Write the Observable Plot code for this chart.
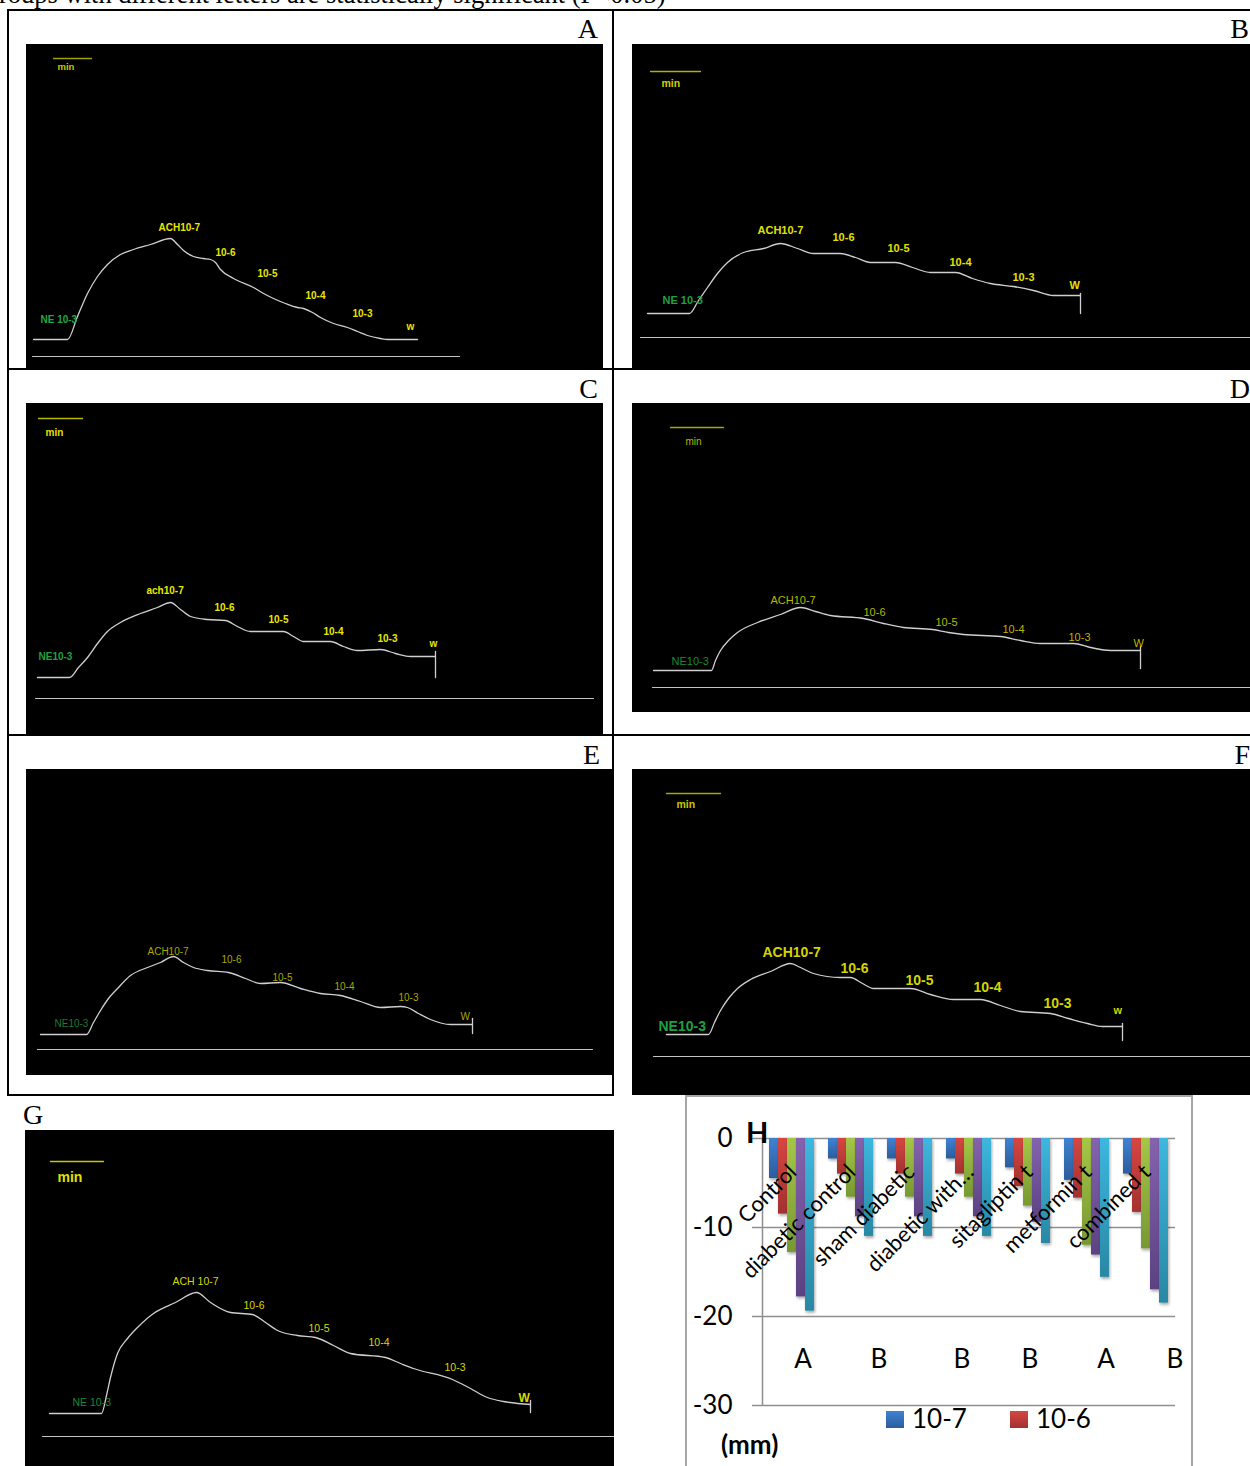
<!DOCTYPE html>
<html><head><meta charset="utf-8">
<script src="https://cdn.jsdelivr.net/npm/d3@7"></script>
<script src="https://cdn.jsdelivr.net/npm/@observablehq/plot@0.6"></script>
<style>
body{margin:0;background:#fff;}
#page{position:relative;width:1250px;height:1466px;overflow:hidden;background:#fff;}
.ln{position:absolute;background:#000;}
.serif{position:absolute;font-family:"Liberation Serif","Times New Roman",serif;color:#000;white-space:nowrap;}
.lato{position:absolute;font-family:Lato,sans-serif;color:#000;white-space:nowrap;line-height:1.2;}
.wrap{position:absolute;}
.wrap svg{display:block;}
.hbars g[aria-label="bar"] rect{filter:url(#bshadow);}
</style></head><body>
<svg width="0" height="0" style="position:absolute">
<defs>
<linearGradient id="bg0" x1="0" y1="0" x2="0" y2="1"><stop offset="0" stop-color="#3f82d2"/><stop offset="1" stop-color="#2c5c9c"/></linearGradient>
<linearGradient id="bg1" x1="0" y1="0" x2="0" y2="1"><stop offset="0" stop-color="#d64642"/><stop offset="1" stop-color="#a3312f"/></linearGradient>
<linearGradient id="bg2" x1="0" y1="0" x2="0" y2="1"><stop offset="0" stop-color="#a4c747"/><stop offset="1" stop-color="#789833"/></linearGradient>
<linearGradient id="bg3" x1="0" y1="0" x2="0" y2="1"><stop offset="0" stop-color="#8563ae"/><stop offset="1" stop-color="#5b4282"/></linearGradient>
<linearGradient id="bg4" x1="0" y1="0" x2="0" y2="1"><stop offset="0" stop-color="#3db7de"/><stop offset="1" stop-color="#2888a4"/></linearGradient>
<filter id="bshadow" x="-30%" y="-10%" width="160%" height="130%"><feDropShadow dx="1" dy="2" stdDeviation="1.5" flood-color="#000" flood-opacity="0.35"/></filter>
</defs></svg>
<div id="page"></div>
<script>
// ---------------- DATA ----------------
// Bar chart H
const categories = ["Control","diabetic control","sham diabetic","diabetic with…","sitagliptin t","metformin t","combined t"];
const doses = ["10-7","10-6","10-5","10-4","10-3"];
const vals107 = [-4.5,-2.3,-2.3,-2.3,-3.3,-4.7,-4.0];
const vals106 = [-8.5,-4.0,-4.0,-4.0,-5.4,-6.7,-8.3];
const vals105 = [-12.8,-6.6,-6.6,-6.6,-7.6,-12.0,-12.4];
const vals104 = [-17.8,-8.8,-8.8,-8.8,-9.4,-13.1,-17.0];
const vals103 = [-19.4,-11.0,-11.0,-11.0,-11.8,-15.6,-18.5];
const yTicks = [0,-10,-20,-30];
const sigLetters = ["A","B","B","B","A","B"];
const legendDoses = ["10-7","10-6"];

// Tracings (time, tension) read from the recordings
const traceA = [[33,339],[67,339],[77,316],[87,293],[97,276],[107,264],[120,254],[133,249],[150,244],[170,238],[177,244],[183,250],[193,256],[203,258],[210,259],[215,262],[220,269],[233,278],[253,287],[263,293],[273,298],[285,303],[297,307],[303,308],[312,312],[320,317],[333,323],[347,327],[357,331],[367,335],[380,338],[387,339],[417,339]];
const baseA = [[32,356],[459,356]];
const minA = [[53,58],[91,58]];
const labelsA = [["NE 10-3",40,319],["ACH10-7",158,227],["10-6",215,252],["10-5",257,273],["10-4",305,295],["10-3",352,313],["w",406,326]];

const traceB = [[647,313],[689,313],[698,300],[707,287],[717,273],[727,262],[743,252],[763,248],[780,243],[797,248],[813,253],[840,253],[855,257],[870,262],[895,262],[912,267],[930,272],[955,272],[972,278],[990,283],[1013,286],[1033,290],[1053,295],[1080,295]];
const tickB = [[1080,293],[1080,313]];
const baseB = [[640,337],[1250,337]];
const minB = [[650,71],[700,71]];
const labelsB = [["NE 10-3",662,300],["ACH10-7",757,230],["10-6",832,237],["10-5",887,248],["10-4",949,262],["10-3",1012,277],["W",1069,285]];

const traceC = [[37,677],[69,677],[78,667],[87,657],[97,643],[107,631],[120,622],[140,613],[157,607],[170,602],[180,609],[190,616],[207,619],[225,620],[237,626],[250,631],[273,631],[283,631],[293,636],[303,641],[322,641],[330,641],[343,646],[357,650],[380,649],[395,653],[410,656],[435,656]];
const tickC = [[435,651],[435,677]];
const baseC = [[35,698],[593,698]];
const minC = [[38,418],[82,418]];
const labelsC = [["NE10-3",38,656],["ach10-7",146,590],["10-6",214,607],["10-5",268,619],["10-4",323,631],["10-3",377,638],["w",429,643]];

const traceD = [[653,670],[711,670],[715,660],[720,650],[728,640],[737,632],[757,622],[780,614],[800,607],[815,611],[830,615],[863,618],[883,623],[903,627],[932,629],[948,632],[963,634],[1000,636],[1020,640],[1040,643],[1073,643],[1090,647],[1110,650],[1140,650]];
const tickD = [[1140,646],[1140,668]];
const baseD = [[652,687],[1250,687]];
const minD = [[670,427],[723,427]];
const labelsD = [["NE10-3",671,661],["ACH10-7",770,600],["10-6",863,612],["10-5",935,622],["10-4",1002,629],["10-3",1068,637],["W",1133,643]];

const traceE = [[40,1034],[86,1034],[93,1022],[100,1010],[108,998],[117,988],[130,975],[147,967],[160,962],[173,956],[183,962],[193,967],[207,970],[228,972],[245,978],[260,983],[280,982],[300,988],[320,993],[340,995],[360,1001],[380,1007],[400,1006],[407,1007],[418,1013],[430,1019],[450,1024],[472,1024]];
const tickE = [[472,1018],[472,1033]];
const baseE = [[37,1049],[592,1049]];
const labelsE = [["NE10-3",54,1023],["ACH10-7",147,951],["10-6",221,959],["10-5",272,977],["10-4",334,986],["10-3",398,997],["W",460,1016]];

const traceF = [[666,1034],[708,1034],[714,1022],[720,1010],[728,998],[737,988],[750,979],[770,971],[790,963],[800,967],[813,973],[840,977],[850,977],[862,983],[873,988],[910,988],[930,994],[953,999],[980,999],[1000,1005],[1020,1011],[1050,1013],[1068,1018],[1087,1023],[1102,1026],[1122,1026]];
const tickF = [[1122,1023],[1122,1040]];
const baseF = [[653,1056],[1250,1056]];
const minF = [[666,793],[720,793]];
const labelsF = [["NE10-3",658,1026],["ACH10-7",762,952],["10-6",840,968],["10-5",905,980],["10-4",973,987],["10-3",1043,1003],["w",1113,1010]];

const traceG = [[49,1413],[101,1413],[106,1395],[110,1377],[117,1353],[127,1338],[137,1327],[153,1313],[175,1302],[196,1292],[210,1302],[230,1312],[252,1314],[265,1322],[277,1330],[297,1335],[315,1337],[333,1345],[350,1353],[385,1357],[400,1363],[413,1368],[452,1379],[470,1388],[487,1397],[503,1401],[530,1404]];
const tickG = [[530,1400],[530,1412]];
const baseG = [[42,1436],[614,1436]];
const minG = [[50,1161],[103,1161]];
const labelsG = [["NE 10-3",72,1402],["ACH 10-7",172,1281],["10-6",243,1305],["10-5",308,1328],["10-4",368,1342],["10-3",444,1367],["W",518,1398]];

// ---------------- LAYOUT ----------------
const page = document.getElementById("page");
function el(cls, css, text){
  const d = document.createElement("div");
  d.className = cls; Object.assign(d.style, css);
  if (text != null) d.textContent = text;
  page.appendChild(d); return d;
}
// caption (cut at top)
el("serif", {left:"-1px", top:"-19px", fontSize:"26.5px", lineHeight:"26.5px"}, "roups with different letters are statistically significant (P<0.05)");

// panels
const panels = [
  {id:"A", box:[26,44,603,369], trace:traceA, base:baseA, tick:null, min:minA, minText:[57,66], minSize:9.5, minBold:true, labels:labelsA, fs:10, bold:true, yellow:"#e6e600", green:"#24a646", bar:"#a0a000", minColor:"#c8c800"},
  {id:"B", box:[632,44,1250,369], trace:traceB, base:baseB, tick:tickB, min:minB, minText:[661,83], minSize:10.5, minBold:true, labels:labelsB, fs:11, bold:true, yellow:"#e0e000", green:"#20a040", bar:"#b0b000", minColor:"#d0d000"},
  {id:"C", box:[26,403,603,735], trace:traceC, base:baseC, tick:tickC, min:minC, minText:[45,432], minSize:10, minBold:true, labels:labelsC, fs:10, bold:true, yellow:"#e8e800", green:"#22a040", bar:"#b8b800", minColor:"#e0e000"},
  {id:"D", box:[632,403,1250,712], trace:traceD, base:baseD, tick:tickD, min:minD, minText:[685,441], minSize:10, minBold:false, labels:labelsD, fs:11, bold:false, yellow:"#b8b800", green:"#1a8a36", bar:"#a8a800", minColor:"#b8b800"},
  {id:"E", box:[26,769,612,1075], trace:traceE, base:baseE, tick:tickE, min:null, labels:labelsE, fs:10, bold:false, yellow:"#a8a800", green:"#1a7a30"},
  {id:"F", box:[632,769,1250,1095], trace:traceF, base:baseF, tick:tickF, min:minF, minText:[676,804], minSize:10.5, minBold:true, labels:labelsF, fs:14, bold:true, wSize:11, yellow:"#d4d400", green:"#1fa040", bar:"#a8a800", minColor:"#c8c800"},
  {id:"G", box:[25,1130,614,1466], trace:traceG, base:baseG, tick:tickG, min:minG, minText:[57,1177], minSize:14, minBold:true, labels:labelsG, fs:10.5, bold:false, wBold:true, wSize:12, yellow:"#d8d800", green:"#1a8a36", bar:"#c8c800", minColor:"#e0e000"}
];
const X = d => d[0], Y = d => d[1];
for (const p of panels){
  const [l,t,r,b] = p.box;
  const w = r - l, h = b - t;
  const font = "Liberation Sans, Arial, sans-serif";
  const marks = [
    Plot.line(p.base, {x:X, y:Y, stroke:"#c4c4c4", strokeWidth:1.2}),
    Plot.line(p.trace, {x:X, y:Y, stroke:"#cfcfcf", strokeWidth:1.3, curve:"monotone-x"})
  ];
  if (p.tick) marks.push(Plot.line(p.tick, {x:X, y:Y, stroke:"#cfcfcf", strokeWidth:1.3}));
  if (p.min){
    marks.push(Plot.line(p.min, {x:X, y:Y, stroke:p.bar, strokeWidth:1.3}));
    marks.push(Plot.text([p.minText], {x:X, y:Y, text:()=>"min", fill:p.minColor, fontSize:p.minSize, fontWeight:p.minBold?"bold":"normal", fontFamily:font, textAnchor:"start", lineAnchor:"middle"}));
  }
  const ne = p.labels.slice(0,1), doseL = p.labels.slice(1,-1), wl = p.labels.slice(-1);
  marks.push(Plot.text(ne, {x:d=>d[1], y:d=>d[2], text:d=>d[0], fill:p.green, fontSize:p.fs, fontWeight:p.bold?"bold":"normal", fontFamily:font, textAnchor:"start", lineAnchor:"middle"}));
  marks.push(Plot.text(doseL, {x:d=>d[1], y:d=>d[2], text:d=>d[0], fill:p.yellow, fontSize:p.fs, fontWeight:p.bold?"bold":"normal", fontFamily:font, textAnchor:"start", lineAnchor:"middle"}));
  marks.push(Plot.text(wl, {x:d=>d[1], y:d=>d[2], text:d=>d[0], fill:p.yellow, fontSize:p.wSize||p.fs, fontWeight:(p.bold||p.wBold)?"bold":"normal", fontFamily:font, textAnchor:"start", lineAnchor:"middle"}));
  const chart = Plot.plot({
    width:w, height:h, margin:0,
    x:{domain:[l,r], axis:null},
    y:{domain:[b,t], axis:null},
    style:{background:"#000", overflow:"hidden"},
    marks
  });
  const wrap = el("wrap", {left:l+"px", top:t+"px", width:w+"px", height:h+"px"});
  wrap.appendChild(chart);
}

// table lines
const lines = [
  [8,9,1250,2],[8,368,1250,2],[8,734,1250,2],[8,1094,606,2],
  [7,9,2,1087],[612,9,2,1087]
];
for (const [x,y,w,h] of lines) el("ln", {left:x+"px", top:y+"px", width:w+"px", height:h+"px"});

// panel letters
const letterPos = [["A",598,38,"r"],["B",1249,38,"r"],["C",598,398,"r"],["D",1250,398,"r"],["E",600,764,"r"],["F",1250,764,"r"],["G",23,1124,"l"]];
for (const [s,x,base,a] of letterPos){
  const css = {top:(base-23)+"px", fontSize:"28px", lineHeight:"28px"};
  if (a==="r") css.right = (1250-x)+"px"; else css.left = x+"px";
  el("serif", css, s);
}

// ---------------- H chart ----------------
el("ln", {left:"685px", top:"1095px", width:"507px", height:"1.5px", background:"#a6a6a6"});
el("ln", {left:"685px", top:"1095px", width:"1.5px", height:"380px", background:"#a6a6a6"});
el("ln", {left:"1191px", top:"1095px", width:"1.5px", height:"380px", background:"#a6a6a6"});

const HW = 507, HH = 370, HM = {marginLeft:77, marginRight:17, marginTop:42, marginBottom:61};
const gridPlot = Plot.plot({
  width:HW, height:HH, ...HM,
  x:{domain:[0,1], axis:null},
  y:{domain:[-30,0], axis:null},
  style:{background:"transparent", fontFamily:"Lato, sans-serif", overflow:"visible"},
  marks:[
    Plot.ruleY(yTicks, {stroke:"#8e8e8e", strokeWidth:1.5}),
    Plot.ruleX([0], {y1:-30, y2:0, stroke:"#8e8e8e", strokeWidth:1.5}),
    Plot.axisY({ticks:yTicks, tickFormat:d=>String(d), tickSize:10, tickPadding:20, stroke:"#8e8e8e", strokeWidth:1.5, fill:"#000", fontSize:26, label:null})
  ]
});
const gw = el("wrap", {left:"685px", top:"1096px", width:HW+"px", height:HH+"px"});
gw.appendChild(gridPlot);

const seriesVals = [vals107, vals106, vals105, vals104, vals103];
const barData = [];
doses.forEach((s,j) => categories.forEach((c,i) => barData.push({group:c, dose:s, value:seriesVals[j][i]})));
const barsPlot = Plot.plot({
  width:HW, height:HH, ...HM,
  className:"hbars",
  fx:{domain:categories, paddingInner:0.24, paddingOuter:0.1, axis:null, label:null},
  x:{domain:doses, padding:0, axis:null},
  y:{domain:[-30,0], axis:null},
  color:{type:"ordinal", domain:doses, range:doses.map((d,i)=>`url(#bg${i})`)},
  style:{background:"transparent", fontFamily:"Lato, sans-serif", overflow:"visible"},
  marks:[
    Plot.barY(barData, {fx:"group", x:"dose", y:"value", fill:"dose"}),
    Plot.text(categories, {fx:d=>d, text:d=>d, frameAnchor:"top", rotate:-45, textAnchor:"end", dx:-5, dy:24, fontSize:22, fontFamily:"Lato, sans-serif", fill:"#000"})
  ]
});
const bw = el("wrap", {left:"685px", top:"1096px", width:HW+"px", height:HH+"px"});
bw.appendChild(barsPlot);

// H label, significance letters, legend, unit
el("lato", {left:"746px", top:"1115px", fontSize:"29px", fontWeight:"bold"}, "H");
const sigX = [803,879,962,1030,1106,1175];
sigLetters.forEach((s,i)=> el("lato", {left:sigX[i]+"px", top:"1343px", fontSize:"26px", transform:"translateX(-50%)"}, s));
const legX = [886,1010];
const legGrad = ["linear-gradient(#3f82d2,#2c5c9c)","linear-gradient(#d64642,#a3312f)"];
legendDoses.forEach((s,i)=>{
  el("ln", {left:legX[i]+"px", top:"1411px", width:"18px", height:"17px", background:legGrad[i]});
  el("lato", {left:(legX[i]+26)+"px", top:"1403px", fontSize:"26px"}, s);
});
el("lato", {left:"721px", top:"1429px", fontSize:"26px", fontWeight:"bold"}, "(mm)");
</script></body></html>
